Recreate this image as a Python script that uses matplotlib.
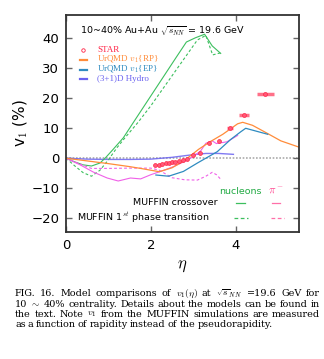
import matplotlib
matplotlib.use("Agg")
import matplotlib.pyplot as plt

plt.rcParams['mathtext.fontset'] = 'cm'

# STAR data
star_eta = [2.11, 2.19, 2.27, 2.35, 2.43, 2.51, 2.58, 2.66, 2.76, 2.86, 3.0, 3.17, 3.37, 3.6, 3.87, 4.2, 4.7]
star_v1 = [-2.2, -2.1, -1.9, -1.7, -1.6, -1.4, -1.2, -0.9, -0.7, -0.2, 1.1, 1.7, 5.1, 5.8, 10.0, 14.6, 21.4]
star_xerr = [0, 0, 0, 0, 0, 0, 0, 0, 0, 0, 0, 0, 0, 0, 0.08, 0.11, 0.2]

# UrQMD v1{RP}
rp_eta = [0, 0.5, 1.0, 1.5, 1.76, 2.2, 2.5, 2.77, 3.13, 3.4, 3.7, 4.05, 4.17, 4.4, 4.7, 5.07, 5.5]
rp_v1 = [0, -0.9, -1.8, -2.8, -3.4, -4.5, -3.2, -1.0, 3.0, 5.5, 8.0, 11.5, 12.0, 11.0, 8.7, 5.8, 3.7]

# UrQMD v1{EP}
ep_eta = [2.12, 2.42, 2.77, 3.1, 3.57, 3.88, 4.12, 4.24, 4.5, 4.76]
ep_v1 = [-5.6, -6.0, -4.4, -1.6, 2.2, 6.2, 8.8, 10.0, 9.0, 8.0]

# (3+1)D hydro
hy_eta = [0, 0.5, 1.0, 1.5, 2.0, 2.5, 3.0, 3.3, 3.6, 3.95]
hy_v1 = [0, -0.3, -0.4, -0.4, -0.3, 0.3, 1.2, 1.6, 1.6, 1.3]

# MUFFIN nucleons
nco_eta = [0, 0.2, 0.4, 0.6, 0.8, 0.92, 1.1, 1.35, 1.6, 1.8, 2.0, 2.2, 2.4, 2.6, 2.84, 3.05, 3.27, 3.45, 3.65]
nco_v1 = [0, -1.2, -2.2, -2.6, -1.6, 0, 2.8, 6.8, 12.2, 16.5, 20.8, 25.1, 29.4, 33.7, 38.8, 40.2, 41.4, 37.5, 35.0]
npt_eta = [0, 0.2, 0.4, 0.6, 0.8, 1.0, 1.2, 1.4, 1.7, 2.0, 2.3, 2.6, 2.9, 3.1, 3.3, 3.46, 3.65]
npt_v1 = [0, -2.5, -4.8, -6.0, -4.0, -0.5, 3.5, 7.0, 12.0, 17.5, 23.5, 29.5, 35.5, 39.5, 41.0, 34.5, 35.2]

# MUFFIN pions
pco_eta = [0, 0.33, 0.64, 0.97, 1.23, 1.52, 1.76, 2.0, 2.25, 2.5, 2.78, 3.0, 3.18, 3.3, 3.45, 3.55, 3.8, 4.05]
pco_v1 = [0, -2.2, -4.6, -6.6, -7.6, -6.6, -6.9, -5.5, -4.3, -3.0, -1.2, 0.5, 2.5, 5.0, 5.8, 4.9, 5.5, 7.6]
ppt_eta = [0, 0.3, 0.6, 1.0, 1.5, 2.0, 2.2, 2.5, 2.8, 3.1, 3.3, 3.45, 3.55, 3.65]
ppt_v1 = [0, -1.8, -3.4, -3.4, -3.3, -3.3, -4.0, -6.5, -7.2, -7.3, -6.0, -4.7, -5.5, -7.0]

caption = [
    r'FIG. 16. Model comparisons of $v_1(\eta)$ at $\sqrt{s}_{NN}$ =19.6 GeV for',
    r'10 $\sim$ 40% centrality. Details about the models can be found in',
    r'the text. Note $v_1$ from the MUFFIN simulations are measured',
    r'as a function of rapidity instead of the pseudorapidity.',
]

green = '#3cbf5e'
magenta = '#f060e8'
orange = '#ff8c3a'
blue = '#2e8bc0'
purple = '#6a62f0'
red = '#ff2244'

fig = plt.figure(figsize=(3.24, 3.59), dpi=100)
ax = fig.add_axes([0.204, 0.354, 0.719, 0.604])

ax.axhline(0, color='#aaaaaa', lw=1.2, ls=(0, (1, 1)), zorder=1)
ax.plot(hy_eta, hy_v1, color=purple, lw=1.0, alpha=0.85)
ax.plot(nco_eta, nco_v1, color=green, lw=0.8)
ax.plot(npt_eta, npt_v1, color=green, lw=0.8, ls=(0, (2.5, 2)))
ax.plot(pco_eta, pco_v1, color=magenta, lw=0.8)
ax.plot(ppt_eta, ppt_v1, color=magenta, lw=0.8, ls=(0, (2.5, 2)))
ax.plot(rp_eta, rp_v1, color=orange, lw=0.9)
ax.plot(ep_eta, ep_v1, color=blue, lw=0.9)
ax.errorbar(star_eta, star_v1, xerr=star_xerr, fmt='o', ms=2.8, mfc='#ff5a78', mec=red,
            mew=0.5, ecolor='#ff7088', elinewidth=2.5, capsize=0, zorder=5)

ax.set_xlim(0, 5.5)
ax.set_ylim(-24.6, 47.8)
ax.set_xticks([0, 2, 4])
ax.set_yticks([-20, -10, 0, 10, 20, 30, 40])
ax.tick_params(direction='in', top=True, right=True, length=4, width=1, color='#666666',
               labelsize=9.5, pad=5)
for s in ax.spines.values():
    s.set_linewidth(1.3)
    s.set_color('#333333')
ax.set_xlabel(r'$\eta$', fontsize=12, labelpad=3)
ax.set_ylabel(r'v$_1$ (%)', fontsize=11, labelpad=1)

ax.text(0.06, 0.955, r'10~40% Au+Au $\sqrt{s_{NN}}$ = 19.6 GeV', transform=ax.transAxes,
        fontsize=6.8, va='top', ha='left')

# legend (top left)
serif = ['Liberation Serif', 'DejaVu Serif']
leg = [('STAR', red), (r'UrQMD $v_1${RP}', orange), (r'UrQMD $v_1${EP}', blue),
       ('(3+1)D Hydro', purple)]
ys = [0.839, 0.794, 0.749, 0.704]
for (lab, c), yy in zip(leg, ys):
    ax.text(0.133, yy, lab, transform=ax.transAxes, color=c, fontsize=6.5, va='center',
            family=serif)
ax.plot([0.073], [ys[0]], 'o', ms=2.5, mfc='none', mec=red, mew=0.6, transform=ax.transAxes)
for (lab, c), yy in list(zip(leg, ys))[1:]:
    ax.plot([0.058, 0.088], [yy, yy], color=c, lw=1.6, transform=ax.transAxes)

# legend (bottom right)
ax.text(0.75, 0.188, 'nucleons', transform=ax.transAxes, color='#22aa44', fontsize=6.8,
        ha='center', va='center')
ax.text(0.9, 0.188, r'$\pi^-$', transform=ax.transAxes, color='#ff3d8a', fontsize=8,
        ha='center', va='center')
ax.text(0.652, 0.135, 'MUFFIN crossover', transform=ax.transAxes, fontsize=6.8,
        ha='right', va='center')
ax.text(0.614, 0.065, r'MUFFIN 1$^{st}$ phase transition', transform=ax.transAxes, fontsize=6.8,
        ha='right', va='center')
ax.plot([0.73, 0.77], [0.135, 0.135], color=green, lw=0.9, transform=ax.transAxes)
ax.plot([0.885, 0.92], [0.135, 0.135], color='#ff6fa8', lw=0.9, transform=ax.transAxes)
ax.plot([0.72, 0.78], [0.065, 0.065], color=green, lw=0.9, ls=(0, (3, 2)), transform=ax.transAxes)
ax.plot([0.88, 0.935], [0.065, 0.065], color='#ff6fa8', lw=0.9, ls=(0, (3, 2)),
        transform=ax.transAxes)

# caption, justified like the paper
renderer = fig.canvas.get_renderer()
W, H = 324, 359
x_left, x_right = 15, 320
for i, line in enumerate(caption):
    y = 1 - (294 + i * 10.2) / H
    words = line.split(' ')
    texts = [fig.text(0, y, w, fontsize=6.9, family='DejaVu Serif', va='center', ha='left')
             for w in words]
    widths = [t.get_window_extent(renderer).width for t in texts]
    if i < len(caption) - 1:
        gap = (x_right - x_left - sum(widths)) / (len(words) - 1)
    else:
        gap = 2.2
    x = x_left
    for t, w in zip(texts, widths):
        t.set_x(x / W)
        x += w + gap

fig.savefig('out.png', dpi=100)
